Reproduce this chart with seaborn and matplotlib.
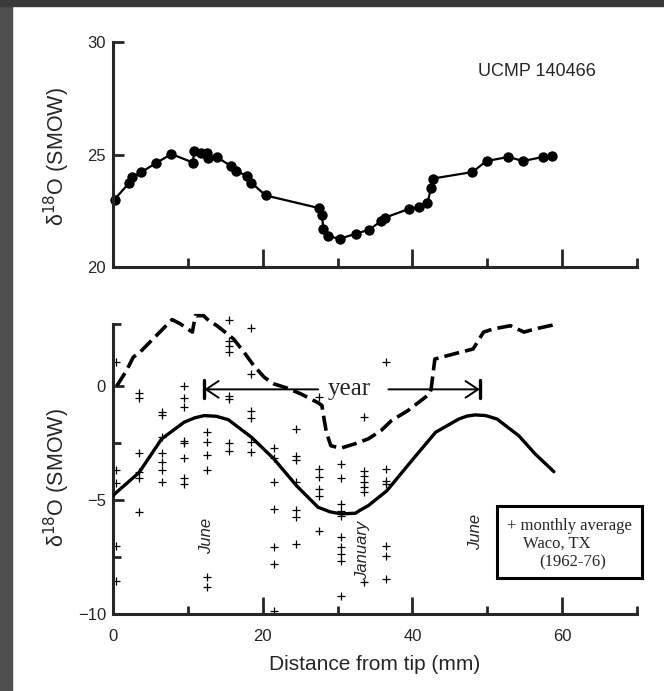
import numpy as np
import pandas as pd
import seaborn as sns
from matplotlib import pyplot as plt
from matplotlib.patches import Rectangle

# top panel: tooth enamel d18O along the tooth
tooth_mm = [0.2, 2.1, 2.5, 3.8, 5.7, 7.8, 10.7, 10.8, 11.7, 12.5, 12.7, 13.9, 15.8, 16.4,
            17.9, 18.5, 20.4, 27.5, 27.9, 28.1, 28.7, 30.3, 32.5, 34.2, 35.8, 36.3, 39.6,
            40.9, 42.0, 42.5, 42.7, 48.0, 49.9, 52.8, 54.8, 57.4, 58.7]
tooth_d18o = [23.0, 23.72, 23.98, 24.22, 24.61, 25.02, 24.64, 25.16, 25.06, 25.08, 24.86,
              24.88, 24.48, 24.28, 24.04, 23.74, 23.18, 22.62, 22.33, 21.70, 21.36, 21.26,
              21.48, 21.66, 22.03, 22.19, 22.59, 22.67, 22.84, 23.51, 23.93, 24.22, 24.71,
              24.89, 24.71, 24.89, 24.92]

# bottom panel: dashed record
dash_mm = [0.5, 1.8, 2.7, 3.6, 7.9, 9.0, 10.6, 11.0, 12.1, 12.8, 13.9, 16.1, 17.5, 18.8,
           20.2, 21.5, 23.3, 25.1, 27.3, 27.9, 28.2, 28.5, 29.1, 30.4, 32.3, 34.1, 35.8,
           37.2, 39.4, 42.3, 42.5, 43.0, 45.5, 48.1, 49.5, 50.8, 53.1, 54.9, 56.4, 58.9]
dash_val = [0.0, 0.67, 1.26, 1.48, 2.91, 2.72, 2.36, 3.08, 3.08, 2.86, 2.64, 2.06, 1.48,
            0.89, 0.38, 0.09, -0.10, -0.35, -0.72, -0.85, -1.45, -2.03, -2.62, -2.73,
            -2.54, -2.32, -1.96, -1.52, -1.08, -0.35, -0.13, 1.18, 1.40, 1.62, 2.36, 2.50,
            2.64, 2.36, 2.50, 2.68]

# bottom panel: solid seasonal curve
solid_mm = [0.0, 3.5, 6.5, 9.5, 10.9, 12.2, 13.8, 15.4, 18.5, 21.5, 24.5, 27.4, 29.0,
            30.5, 32.4, 33.0, 34.1, 36.6, 40.1, 43.1, 46.2, 47.3, 48.4, 49.8, 51.3, 54.2,
            56.4, 58.9]
solid_val = [-4.8, -3.79, -2.32, -1.59, -1.40, -1.30, -1.33, -1.48, -2.25, -3.20, -4.37,
             -5.32, -5.52, -5.61, -5.58, -5.45, -5.25, -4.59, -3.20, -2.03, -1.45, -1.32,
             -1.27, -1.30, -1.45, -2.18, -2.98, -3.76]

# monthly averages, Waco TX (one column per month)
month_mm = [0.4, 3.5, 6.5, 9.5, 12.5, 15.5, 18.5, 21.5, 24.5, 27.5, 30.5, 33.5, 36.5]
month_vals = [
    [1.04, -3.68, -4.27, -7.03, -8.54],
    [-0.32, -0.53, -2.95, -3.79, -4.05, -5.51],
    [-1.15, -1.27, -2.22, -2.95, -3.32, -3.67, -4.23],
    [-0.01, -0.54, -0.91, -2.42, -2.52, -3.17, -4.05, -4.30],
    [-2.03, -2.47, -3.03, -3.67, -8.39, -8.83],
    [2.91, 1.99, 1.77, 1.51, -0.42, -0.57, -2.51, -2.84],
    [2.53, 0.53, -1.08, -1.42, -2.47, -2.91],
    [-2.73, -3.17, -4.23, -5.39, -7.08, -7.81, -9.85],
    [-1.89, -3.06, -3.23, -4.23, -5.44, -5.76, -6.93],
    [-0.48, -3.64, -4.01, -4.52, -4.81, -6.35],
    [-3.42, -4.04, -5.18, -5.47, -5.69, -6.64, -7.08, -7.37, -7.66, -9.20],
    [-1.37, -3.71, -3.93, -4.20, -4.45, -4.67, -8.61],
    [1.04, -3.64, -4.15, -4.30, -7.00, -7.44, -8.46],
]

year_start, year_end, year_level = 12.2, 49.0, -0.15
year_gap = (27.4, 36.8)  # where the arrow shafts stop around the word

sns.set_style("ticks")
plt.rcParams['font.family'] = ['Liberation Sans', 'DejaVu Sans']
SERIF = ['Liberation Serif', 'DejaVu Serif']

monthly = pd.DataFrame({
    'mm': [m for m, col in zip(month_mm, month_vals) for _ in col],
    'val': [v for col in month_vals for v in col],
})

fig = plt.figure(figsize=(6.64, 6.91), dpi=100)
fig.patches.append(Rectangle((0, 0), 12 / 664, 1, transform=fig.transFigure,
                             color='#4e4e4e', zorder=-5))
fig.patches.append(Rectangle((0, 1 - 6 / 691), 1, 6 / 691, transform=fig.transFigure,
                             color='#3a3a3a', zorder=-5))

ax1 = fig.add_axes([0.1702, 0.6136, 0.7891, 0.3256])
ax2 = fig.add_axes([0.1702, 0.1114, 0.7891, 0.4390])

# --- top panel ---
sns.lineplot(x=tooth_mm, y=tooth_d18o, ax=ax1, color='black', lw=1.6, marker='o',
             markersize=7.5, markeredgewidth=0, sort=False, estimator=None, clip_on=False)
ax1.set_xlim(0, 70)
ax1.set_ylim(20, 30)
ax1.set_xticks([20, 40, 60])
ax1.set_xticks([10, 30, 50, 70], minor=True)
ax1.set_xticklabels([])
ax1.set_yticks([20, 25, 30])
ax1.tick_params(axis='x', which='major', direction='in', length=13, width=2)
ax1.tick_params(axis='x', which='minor', direction='in', length=6.5, width=2)
ax1.tick_params(axis='y', direction='in', length=8, width=2, labelsize=12, pad=5)
ax1.text(48.8, 28.7, 'UCMP 140466', fontsize=13, ha='left', va='center')
ax1.text(-0.107, 0.489, 'δ$^{18}$O (SMOW)', rotation=90, fontsize=15.5,
         ha='center', va='center', transform=ax1.transAxes)

# --- bottom panel ---
sns.scatterplot(data=monthly, x='mm', y='val', ax=ax2, marker='+', s=30,
                color='black', linewidth=0.9, zorder=2)
sns.lineplot(x=dash_mm, y=dash_val, ax=ax2, color='black', lw=2.6,
             linestyle=(0, (4.2, 1.7)), sort=False, estimator=None, zorder=3)
sns.lineplot(x=solid_mm, y=solid_val, ax=ax2, color='black', lw=2.4,
             sort=False, estimator=None, zorder=3)
ax2.set_xlim(0, 70)
ax2.set_ylim(-10, 3.3)
ax2.spines['left'].set_bounds(-10, 2.7)
ax2.set_xticks([0, 20, 40, 60])
ax2.set_xticks([10, 30, 50, 70], minor=True)
ax2.set_yticks([-10, -5, 0])
ax2.set_yticks([-7.5, -2.5, 2.7], minor=True)
ax2.tick_params(axis='x', which='major', direction='in', length=12, width=2,
                labelsize=12, pad=11)
ax2.tick_params(axis='x', which='minor', direction='in', length=6, width=2)
ax2.tick_params(axis='y', which='major', direction='in', length=8, width=2,
                labelsize=12, pad=5)
ax2.tick_params(axis='y', which='minor', direction='in', length=6, width=2)
ax2.set_xlabel('Distance from tip (mm)', fontsize=15, labelpad=8)
ax2.set_ylabel('')
ax2.text(-0.107, 0.45, 'δ$^{18}$O (SMOW)', rotation=90, fontsize=15.5,
         ha='center', va='center', transform=ax2.transAxes)

# year arrow
arrow_kw = dict(arrowstyle='->, head_length=0.45, head_width=0.3', lw=1.4,
                color='black', mutation_scale=20, shrinkA=0, shrinkB=0)
ax2.annotate('', xy=(year_start, year_level), xytext=(year_gap[0], year_level),
             arrowprops=arrow_kw)
ax2.annotate('', xy=(year_end, year_level), xytext=(year_gap[1], year_level),
             arrowprops=arrow_kw)
for xb in (year_start, year_end):
    ax2.plot([xb, xb], [year_level - 0.4, year_level + 0.4], color='black', lw=2.4)
ax2.text(31.6, year_level, 'year', family=SERIF, fontsize=18, ha='center', va='center')

# month labels
ax2.text(12.5, -6.57, 'June', rotation=90, style='italic', fontsize=12,
         ha='center', va='center')
ax2.text(48.4, -6.42, 'June', rotation=90, style='italic', fontsize=12,
         ha='center', va='center')
ax2.text(33.4, -7.2, 'January', rotation=90, style='italic', fontsize=12,
         ha='center', va='center', zorder=4,
         bbox=dict(facecolor='white', edgecolor='none', pad=0.5))

# key box
ax2.add_patch(Rectangle((51.3, -8.43), 19.4, 3.18, fill=False, lw=2.2,
                        edgecolor='black', clip_on=False, zorder=4))
ax2.text(52.6, -6.13, '+ monthly average', family=SERIF, fontsize=12,
         ha='left', va='center')
ax2.text(54.8, -6.93, 'Waco, TX', family=SERIF, fontsize=12, ha='left', va='center')
ax2.text(57.0, -7.73, '(1962-76)', family=SERIF, fontsize=12, ha='left', va='center')

for ax in (ax1, ax2):
    sns.despine(ax=ax)
    ax.spines['left'].set_linewidth(2.2)
    ax.spines['bottom'].set_linewidth(2.2)
    ax.set_facecolor('none')

fig.savefig('out.png', dpi=100, facecolor='white')
